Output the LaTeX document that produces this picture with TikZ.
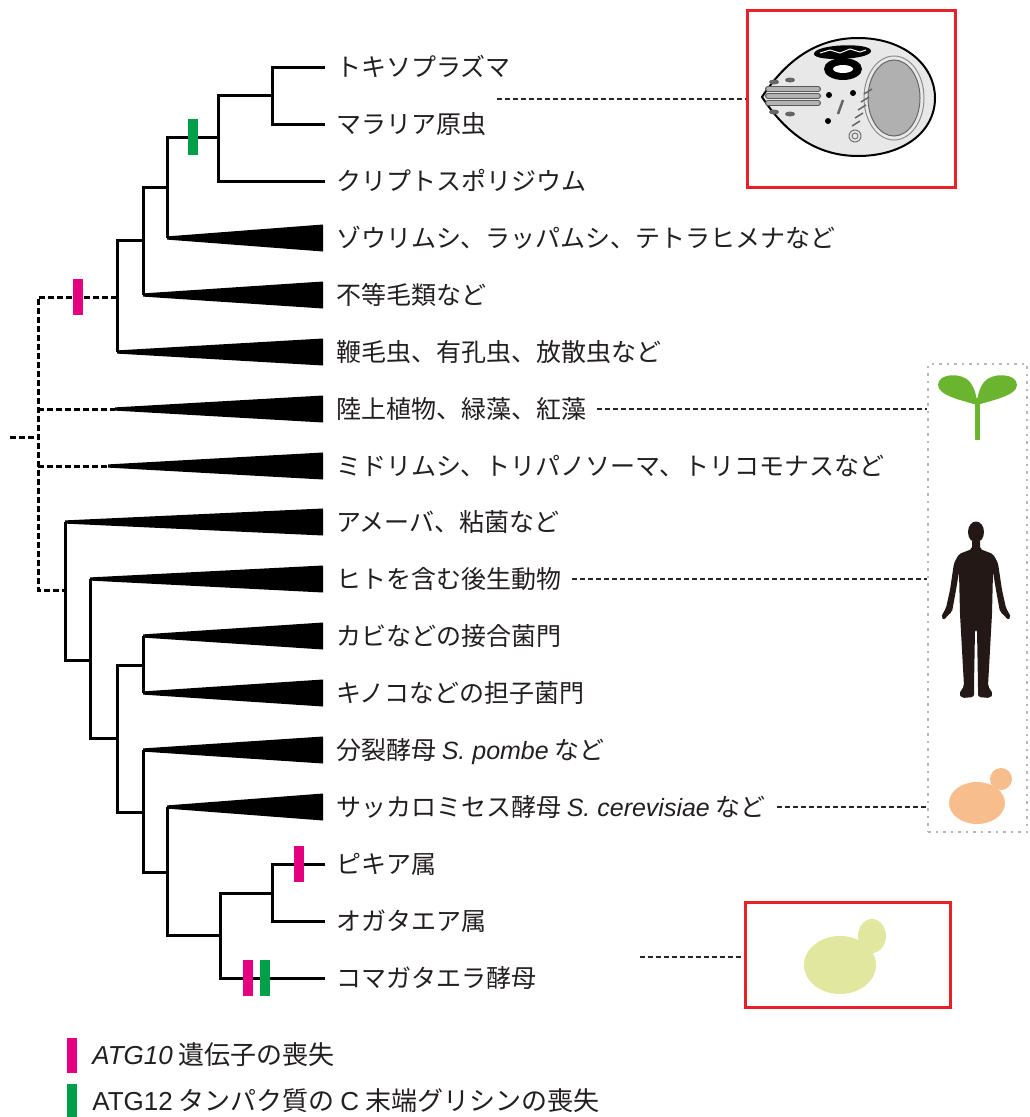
\documentclass[tikz,border=0pt]{standalone}
\usepackage{fontspec}
\setmainfont{Noto Sans CJK JP}
\newfontfamily\latinfont{Liberation Sans}
\usepackage{tikz}
\usetikzlibrary{calc, positioning}
\definecolor{treeink}{HTML}{231F20}
\definecolor{atgmagenta}{HTML}{E4007F}
\definecolor{atggreen}{HTML}{00A04A}
\definecolor{boxred}{HTML}{E8202A}
\definecolor{dotgray}{HTML}{B8B8B8}
\definecolor{sprout}{HTML}{6AB42F}
\definecolor{humanink}{HTML}{231815}
\definecolor{budding}{HTML}{F8BD8D}
\definecolor{komayeast}{HTML}{E1E79E}
\definecolor{cellfill}{HTML}{E8E8E8}
\definecolor{nucfill}{HTML}{B0B0B0}
\tikzset{
  taxon/.style={anchor=west, inner xsep=11pt, inner ysep=0pt, text=treeink,
                font=\fontsize{25}{30}\selectfont, text height=22pt, text depth=3pt},
  branch/.style={line width=3pt, draw=black},
  stem/.style={branch, dash pattern=on 6pt off 3pt},
  link/.style={line width=2pt, dash pattern=on 5pt off 3pt, draw=black!85},
  atgten/.style={fill=atgmagenta, minimum width=10pt, minimum height=36pt, inner sep=0pt},
  atgtwelve/.style={atgten, fill=atggreen},
  redbox/.style={draw=boxred, line width=3pt, inner sep=0pt},
  keytext/.style={anchor=west, inner sep=0pt, text=treeink,
                  font=\fontsize{26}{30}\selectfont},
}
% collapsed clade: wedge from an apex to the label
\newcommand{\clade}[2]{%
  \fill ($(#1|-#2.west)+(0,-1.6)$) -- ($(#2.west)+(-2,-13.5)$)
    -- ($(#2.west)+(-2,13.5)$) -- ($(#1|-#2.west)+(0,1.6)$) -- cycle;}

\begin{document}
\begin{tikzpicture}[x=1pt, y=-1pt]
  \useasboundingbox (0,0) rectangle (1029,1117);

  % taxa
  \node[taxon] (toxo)    at (325,67)  {トキソプラズマ};
  \node[taxon] (malaria) at (325,124) {マラリア原虫};
  \node[taxon] (crypto)  at (325,181) {クリプトスポリジウム};
  \node[taxon] (cilia)   at (325,238) {ゾウリムシ、ラッパムシ、テトラヒメナなど};
  \node[taxon] (strameno) at (325,295) {不等毛類など};
  \node[taxon] (flag)    at (325,352) {鞭毛虫、有孔虫、放散虫など};
  \node[taxon] (plants)  at (325,409) {陸上植物、緑藻、紅藻};
  \node[taxon] (eugl)    at (325,466) {ミドリムシ、トリパノソーマ、トリコモナスなど};
  \node[taxon] (amoeba)  at (325,522) {アメーバ、粘菌など};
  \node[taxon] (metazoa) at (325,579) {ヒトを含む後生動物};
  \node[taxon] (zygo)    at (325,636) {カビなどの接合菌門};
  \node[taxon] (basidio) at (325,693) {キノコなどの担子菌門};
  \node[taxon] (pombe)   at (325,750) {分裂酵母 {\latinfont\itshape S. pombe} など};
  \node[taxon] (sacc)    at (325,807) {サッカロミセス酵母 {\latinfont\itshape S. cerevisiae} など};
  \node[taxon] (pichia)  at (325,864) {ピキア属};
  \node[taxon] (ogataea) at (325,921) {オガタエア属};
  \node[taxon] (koma)    at (325,978) {コマガタエラ酵母};

  % inner nodes
  \coordinate (tm)     at (272,95);
  \coordinate (apic)   at (218,137);
  \coordinate (alv)    at (167,187);
  \coordinate (sa)     at (143,240);
  \coordinate (sar)    at (117,297);
  \coordinate (root)   at (38,437);
  \coordinate (stub)   at (10,437);
  \coordinate (pl)     at (115,409);
  \coordinate (eu)     at (108,466);
  \coordinate (amor)   at (65,590);
  \coordinate (opis)   at (90,660);
  \coordinate (fungi)  at (117,738);
  \coordinate (mucbas) at (143,665);
  \coordinate (asco)   at (143,812);
  \coordinate (sacch)  at (167,872);
  \coordinate (pomp)   at (220,935);
  \coordinate (pio)    at (272,893);

  % upper part
  \draw[branch] (toxo.west) -| (tm) |- (malaria.west);
  \draw[branch] (tm) -| (apic) |- (crypto.west);
  \draw[branch] (apic) -| (alv) -- (alv |- cilia.west);
  \clade{alv}{cilia}
  \draw[branch] (alv) -| (sa) -- (sa |- strameno.west);
  \clade{sa}{strameno}
  \draw[branch] (sa) -| (sar) -- (sar |- flag.west);
  \clade{sar}{flag}

  % dashed base
  \draw[stem] (stub) -- (root);
  \draw[stem] (sar) -| (root) |- (amor);
  \draw[stem] (root |- pl) -- (pl);
  \clade{pl}{plants}
  \draw[stem] (root |- eu) -- (eu);
  \clade{eu}{eugl}

  % lower part
  \draw[branch] (amor) -- (amor |- amoeba.west);
  \clade{amor}{amoeba}
  \draw[branch] (amor) |- (opis);
  \draw[branch] (opis) -- (opis |- metazoa.west);
  \clade{opis}{metazoa}
  \draw[branch] (opis) |- (fungi);
  \draw[branch] (fungi) |- (mucbas);
  \draw[branch] (mucbas |- zygo.west) -- (mucbas |- basidio.west);
  \clade{mucbas}{zygo}
  \clade{mucbas}{basidio}
  \draw[branch] (fungi) |- (asco);
  \draw[branch] (asco |- pombe.west) |- (sacch);
  \clade{asco}{pombe}
  \draw[branch] (sacch |- sacc.west) |- (pomp);
  \clade{sacch}{sacc}
  \draw[branch] (pio) -| (pomp) |- (koma.west);
  \draw[branch] (pichia.west) -| (pio) |- (ogataea.west);

  % gene losses
  \node[atgtwelve] (lossa) at ($(alv |- apic)!0.5!(apic)$) {};
  \node[atgten]    (lossb) at ($(root |- sar)!0.5!(sar)$) {};
  \node[atgten]    (lossc) at ($(pio |- pichia.west)!0.5!(pichia.west)$) {};
  \node[atgten]    (lossd) at (248,978) {};
  \node[atgtwelve] (losse) at (265,978) {};

  % frames
  \node[redbox, minimum width=208pt, minimum height=177pt] (cellbox) at (851,98.5) {};
  \node[redbox, minimum width=205pt, minimum height=105pt] (komabox) at (847.5,954.5) {};
  \node[draw=dotgray, line width=2.5pt, dash pattern=on 2.5pt off 5pt,
        minimum width=99pt, minimum height=468pt, inner sep=0pt] (models) at (977.5,598) {};

  \draw[link] (malaria.east |- cellbox.west) -- (cellbox.west);
  \draw[link] (plants.east) -- (plants.east -| models.west);
  \draw[link] (metazoa.east) -- (metazoa.east -| models.west);
  \draw[link] (sacc.east) -- (sacc.east -| models.west);
  \coordinate (komalink) at (640,957);
  \draw[link] (komalink) -- (komalink -| komabox.west);

  % apicomplexan cell
  \draw[line width=2pt, fill=cellfill] (762,97) .. controls (785,62) and (815,38) .. (858,38)
    .. controls (905,38) and (935,66) .. (935,98)
    .. controls (935,132) and (903,156) .. (858,156)
    .. controls (815,156) and (785,132) .. (762,97) -- cycle;
  \draw[line width=1pt, draw=black!45] (894,98) ellipse [x radius=30, y radius=42];
  \draw[line width=1pt, draw=black!60, fill=nucfill] (894,98) ellipse [x radius=26, y radius=38];
  \fill (814,54) .. controls (814,44) and (871,42) .. (871,51)
    .. controls (871,60) and (814,62) .. (814,54) -- cycle;
  \draw[white, line width=1pt] (820,53) -- (830,50) -- (840,53) -- (850,49) -- (860,52) -- (866,50);
  \fill (843,69) ellipse [x radius=19, y radius=11];
  \fill[white] (843,69) ellipse [x radius=10, y radius=4];
  \foreach \y in {89,96,103} {
    \draw[line width=6pt, black!65, line cap=round] (768,\y) -- (818,\y);
    \draw[line width=3.5pt, black!30, line cap=round] (768,\y) -- (818,\y);
  }
  \foreach \x/\y in {774/82,790/80,774/112,790/114}
    \fill[black!60] (\x,\y) ellipse [x radius=5, y radius=2.5];
  \foreach \x/\y in {829/95,853/93,828/121}
    \fill (\x,\y) circle (3);
  \draw[line width=2.5pt, black!60] (838,114) -- (843,100);
  \foreach \k in {0,1,2,3,4}
    \draw[line width=1.5pt, black!60] (852+\k*3,126-\k*8) -- (860+\k*3,121-\k*8);
  \draw[black!55, line width=1pt] (855,136) circle (6) (855,136) circle (3);

  % sprout
  \fill[sprout] (977,405) .. controls (965,401) and (938,396) .. (938,385)
    .. controls (938,373) and (962,372) .. (970,382)
    .. controls (975,389) and (977,397) .. (977,405) -- cycle;
  \fill[sprout] (977,405) .. controls (989,401) and (1017,396) .. (1017,385)
    .. controls (1017,373) and (992,372) .. (984,382)
    .. controls (979,389) and (977,397) .. (977,405) -- cycle;
  \fill[sprout] (975,398) rectangle (980,440);

  % human
  \fill[humanink] (976,532) ellipse [x radius=8, y radius=10.5];
  \fill[humanink, rounded corners=2pt] (972,540) -- (972,549) -- (959,554) -- (954,563)
    -- (950,590) -- (946,608) -- (941,617) -- (944,620) -- (949,614) -- (952,612)
    -- (956,590) -- (959,572) -- (960,614) -- (962,650) -- (964,686) -- (959,694)
    -- (962,698) -- (974,697) -- (974,686) -- (975,630) -- (977,630) -- (978,686)
    -- (978,697) -- (990,698) -- (993,694) -- (988,686) -- (990,650) -- (992,614)
    -- (993,572) -- (996,590) -- (1000,612) -- (1003,614) -- (1008,620) -- (1011,617)
    -- (1006,608) -- (1002,590) -- (998,563) -- (993,554) -- (980,549) -- (980,540) -- cycle;

  % budding yeast
  \fill[budding] (977,803) ellipse [x radius=28, y radius=21];
  \fill[budding] (1001,779) circle (11);

  % Komagataella cell
  \fill[komayeast] (840,965) ellipse [x radius=36, y radius=29];
  \fill[komayeast] (872,936) ellipse [x radius=14, y radius=17];

  % key
  \node[atgten, minimum height=35pt] (keyten) at (72,1055) {};
  \node[keytext, right=15pt of keyten] {{\latinfont\itshape ATG10} 遺伝子の喪失};
  \node[atgtwelve, minimum height=35pt] (keytwelve) at (72,1101) {};
  \node[keytext, right=15pt of keytwelve] {{\latinfont ATG12} タンパク質の {\latinfont C} 末端グリシンの喪失};
\end{tikzpicture}
\end{document}
